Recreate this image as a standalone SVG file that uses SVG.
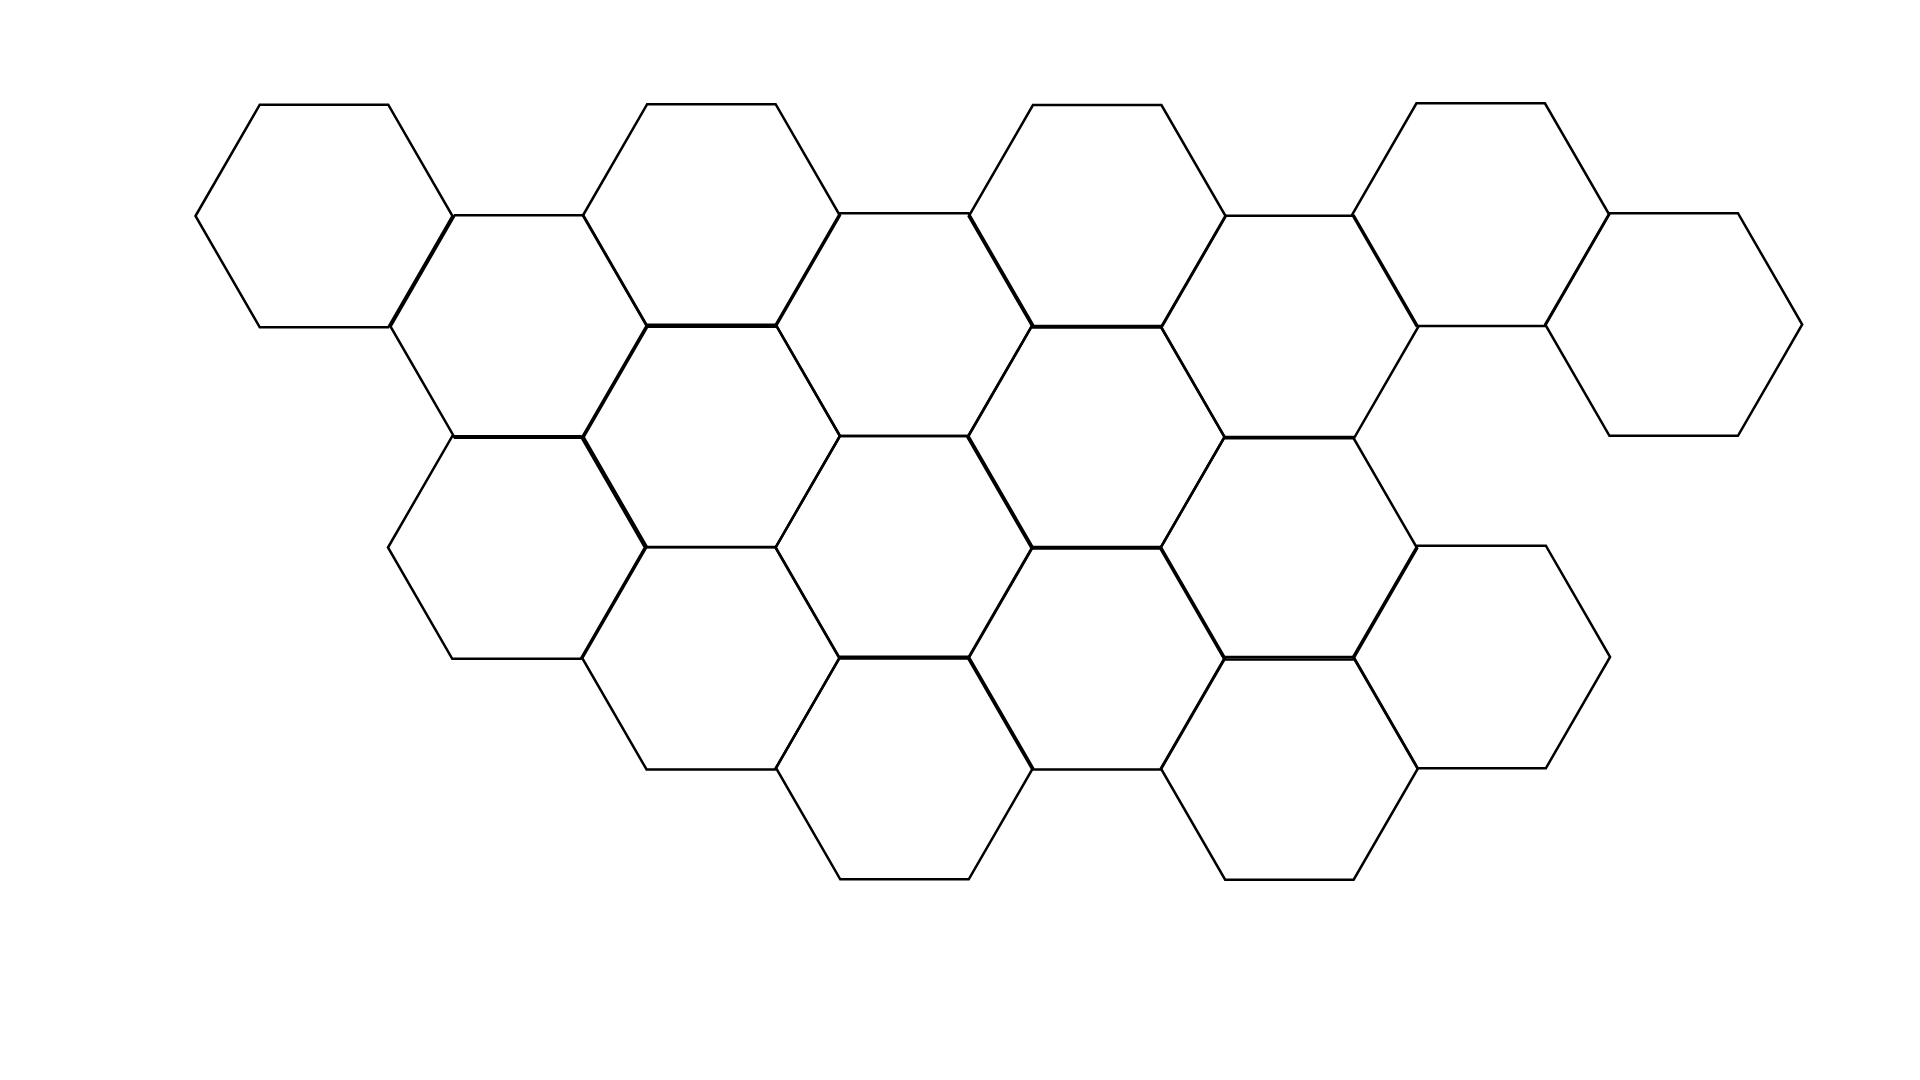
<svg xmlns="http://www.w3.org/2000/svg" xmlns:xlink="http://www.w3.org/1999/xlink" width="1920" height="1080" viewBox="0 0 1920 1080">
  <style>
    .hex { fill: none; stroke: #000; stroke-width: 2.5; stroke-linejoin: miter; }
  </style>
  <defs>
    <polygon id="h" class="hex" points="-128.5,0 -64.25,-111.28 64.25,-111.28 128.5,0 64.25,111.28 -64.25,111.28"/>
  </defs>
  <rect width="1920" height="1080" fill="#fff"/>
  <g id="hex-1-1"><use href="#h" x="324" y="216"/></g>
  <g id="hex-2-1"><use href="#h" x="519" y="326.5"/></g>
  <g id="hex-2-2"><use href="#h" x="516.5" y="547.5"/></g>
  <g id="hex-3-1"><use href="#h" x="711.4" y="215.5"/></g>
  <g id="hex-3-2"><use href="#h" x="711.4" y="436"/></g>
  <g id="hex-3-3"><use href="#h" x="710.8" y="658.2"/></g>
  <g id="hex-4-1"><use href="#h" x="904.3" y="324.6"/></g>
  <g id="hex-4-2"><use href="#h" x="904.2" y="547.3"/></g>
  <g id="hex-4-3"><use href="#h" x="904.5" y="768"/></g>
  <g id="hex-5-1"><use href="#h" x="1097.2" y="216.3"/></g>
  <g id="hex-5-2"><use href="#h" x="1096" y="437.2"/></g>
  <g id="hex-5-3"><use href="#h" x="1096.6" y="658.2"/></g>
  <g id="hex-6-1"><use href="#h" x="1289.7" y="327"/></g>
  <g id="hex-6-2"><use href="#h" x="1288.7" y="548.3"/></g>
  <g id="hex-6-3"><use href="#h" x="1289.4" y="768.4"/></g>
  <g id="hex-7-1"><use href="#h" x="1480.7" y="214.6"/></g>
  <g id="hex-7-2"><use href="#h" x="1481.6" y="657"/></g>
  <g id="hex-8-1"><use href="#h" x="1673.7" y="324.5"/></g>
  <g id="connectors"></g>
</svg>
